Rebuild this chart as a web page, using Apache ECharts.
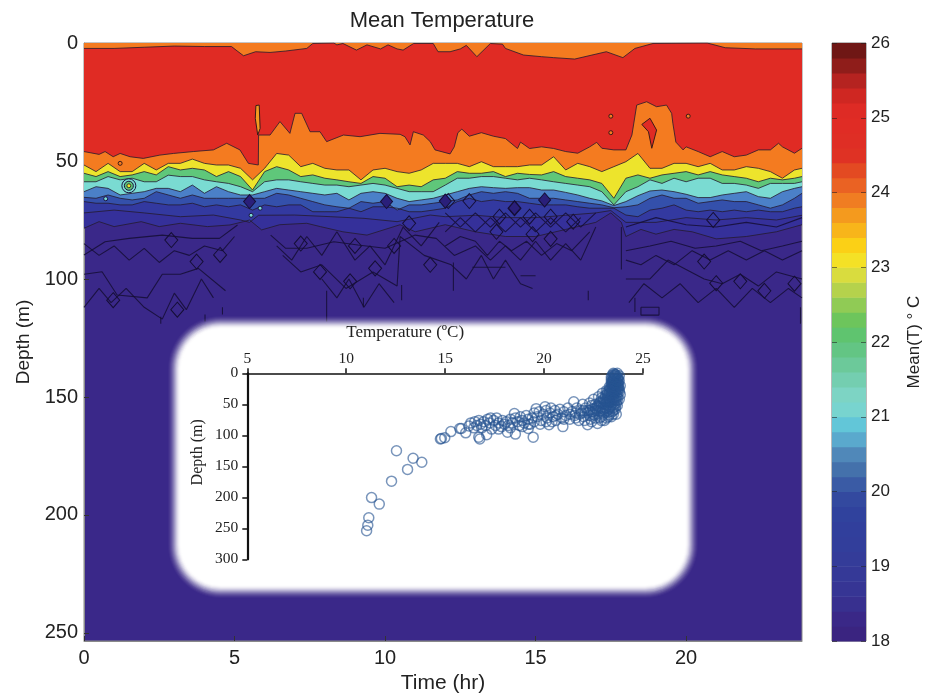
<!DOCTYPE html>
<html><head><meta charset="utf-8">
<style>html,body{margin:0;padding:0;background:#fff}#c{width:931px;height:694px}</style>
<script src="https://cdn.jsdelivr.net/npm/echarts@6/dist/echarts.min.js"></script>
</head><body><div id="c"></div>
<script>
// ---------- main contour panel: isotherm depths (m) ----------
const gridTimes=[0,.4,.8,1.2,1.6,2,2.4,2.8,3.2,3.6,4,4.4,4.8,5.2,5.6,6,6.4,6.8,7.2,7.6,8,8.4,8.8,9.2,9.6,10,10.4,10.8,11.2,11.6,12,
12.4,12.8,13.2,13.6,14,14.4,14.8,15.2,15.6,16,16.4,16.8,17.2,17.6,18,18.4,18.8,19.2,19.6,20,20.4,20.8,21.2,21.6,22,22.4,22.8,23.2,23.6,23.85];
const isoYellowTop=[51.7,54.5,51,54.5,54.5,51,53.8,51,51,49.2,51,51.7,51.7,53.1,58,53.1,46.8,47.5,52.4,51,53.1,53.8,53.8,58,53.8,53.1,54.5,55.2,53.8,51,51,
51,52.4,50.3,52.4,52.4,52.4,51.7,51.7,48.2,53.8,51,52.4,54.5,52.4,50.3,46.8,53.1,53.1,51,51,52.4,51,53.8,53.8,52.4,53.1,54.5,57.3,53.8,53.1];
const isoGreenTop=[55.2,56.6,54.5,56.6,55.9,54.5,55.9,52.4,53.8,53.1,53.8,56.6,54.5,56.6,62.3,54.5,52.4,53.8,56.6,55.9,57.3,58,58.8,59.5,56.6,57.3,60.9,60.2,60.9,58,57.3,
54.5,55.2,55.2,54.5,56.6,55.2,55.7,55.9,54.5,56.6,57.3,58,59.5,65.8,57.3,55.9,57.3,55.9,55.2,54.5,55.9,54.5,55.9,56.6,57.3,58.8,57.3,58,57.3,56.6];
const isoCyanTop=[58.8,58.8,56.6,58,57.3,58.8,58.8,56,56.6,56.6,58,58.8,59.5,60.9,63,58.8,58,58,58.8,59.5,60.2,60.2,60.9,60.2,59.5,60.2,61.6,63,63,63,60.2,
57.3,57.3,56.6,56.6,57.3,58,57.3,58,58.8,59.5,60.2,60.9,63,68.6,63,60.9,58,59.5,57.3,58.8,57.3,57.3,59.5,59.5,60.2,61.6,59.5,59.5,59.5,58.8];
const isoLightBlueTop=[63,60.9,61.6,64.4,63.7,63,61.6,61.6,63,60.2,63.7,60.9,63,64.4,64.4,63,61.6,62.3,63,63.7,64.4,63.7,66.5,63.7,63,63.7,65.8,67.2,66.5,65.8,64.4,
63,61.6,60.9,61.3,61.6,61.3,61.3,62.3,62.3,63.3,64.4,65.8,66.9,68.9,67.2,64.7,62.7,62.3,63,64.1,65.5,65.5,64.4,63.7,63,65.1,65.8,63,61.6,60.9];
const isoMidBlueTop=[65.4,65.8,64.4,65.8,66.5,65.8,63,64.4,65.8,64.4,65.8,65.8,65.8,65.8,65.8,65.8,63.7,64.4,65.8,67.2,68.6,69.4,70,67.2,67.9,67.2,70.8,68.6,68.6,67.9,67.2,
66.5,64.4,63,63.7,63,63.7,65.8,65.8,65.8,66.5,67.2,67.9,68.6,69.8,69.4,68.6,65.8,64.4,65.8,65.8,67.9,67.2,66.5,67.2,67.2,68.6,70,68.6,65.8,63.7];
const isoDarkBlueTop=[67.2,67.9,67.9,68.6,68.6,67.2,67.9,68.6,68.6,67.9,69.4,68.6,69.4,68.6,70.8,68.6,69.4,68.6,68.6,71.5,71.5,71.5,70,71.5,69.4,69.4,70,71.5,71.5,70.8,70,
67.2,65.8,67.2,66.5,67.2,67.2,67.9,68.6,68.6,68.6,69.4,70,70,70,72.9,73.6,70.8,70,68.6,70.8,71.5,70.8,71.5,70.8,71.5,70.8,71.5,71.5,70,69.4];
const isoRedBottom=[[0,46],[.5,47.2],[.7,46],[.97,48.2],[1.2,46.8],[1.53,48.2],[1.97,48.9],[2.52,47.5],[2.97,46.8],[3.63,46],[4.3,45.3],[4.74,42.5],[5.18,45.3],[5.46,51],[5.79,51.7],[5.8,39],[6.18,39],[6.51,33.3],[6.84,38.3],[7.01,29.8],[7.23,29.8],[7.51,37.6],[7.84,37.6],[8.06,41.8],[8.62,39],[9.17,39.7],[9.83,38.3],[10.5,38.7],[10.66,39.7],[10.83,43.2],[10.94,37.6],[11.27,39],[11.5,41.8],[11.66,45.3],[12.16,47],[12.3,44],[12.42,38],[12.55,36.5],[12.8,39.5],[13.2,38],[13.6,39.5],[14,40.5],[14.4,44.7],[14.5,42],[14.8,44.7],[15.2,44],[15.6,44.7],[16,46],[16.4,46.7],[16.8,44],[17.03,42.1],[17.2,44.6],[17.6,45.3],[18,45.3],[18.2,39],[18.36,26.3],[18.69,24.9],[19.02,27],[19.35,26.3],[19.52,29.8],[19.56,34],[19.66,42],[19.9,45.3],[20,44],[20.4,46],[20.8,48.2],[21.2,46],[21.6,48.2],[22,47.5],[22.4,45.3],[22.8,45.3],[23.07,42.5],[23.2,44],[23.6,46.7],[23.85,44.6]];
const isoRedTop=[[0,2.3],[1,2.3],[2,1.8],[3,1.3],[4,1.5],[4.9,1.5],[5.05,3],[5.3,5.4],[5.7,3.7],[6.18,4],[6.7,3.4],[7.4,2.3],[7.6,.2],[8.3,0],[8.4,.8],[8.6,.2],[9.05,3],[9.4,.8],[9.85,2.5],[10.1,.8],[10.4,2.5],[10.6,3],[10.95,.2],[11.6,.2],[11.76,3.7],[12.16,3.7],[12.5,2.5],[12.7,1],[13.05,5.8],[13.5,.2],[13.9,.5],[14,2.3],[14.6,5.1],[15.2,5.8],[15.6,6.2],[16.3,6.8],[17.35,3.7],[17.9,6.2],[18.3,2.3],[18.9,.2],[20.7,0],[21.3,2],[22.3,2.5],[23.85,2.5]];
// deep contours, null = break
const contour1=[[0,72],[1,70.8],[2,72],[3.2,73.6],[4.3,72.9],[5.2,75],[5.5,76],[5.8,73],[7,72.9],[8.2,73.6],[9.3,74.3],[10.4,75.7],[11.5,72.9],[12,73.6],[13,73],[14,74],[15,74],[16,73],[17,72],[17.5,71],[18,76],[19,76],[20,74],[21,75],[22,74],[23,75],[23.85,73]];
const contour2=[[0,78.5],[.5,75.7],[1,77.8],[1.9,75.7],[2.5,77.8],[3.2,76.4],[4.1,77.8],[4.85,77.1],[5.3,75.7],[5.5,75],[5.9,79.2],[6.5,77],[7.4,76.4],[7.85,77.8],[8.6,80],[9.4,81.4],[10.5,77],[11,80],[12,77],[13,80],[14,82],[15,82],[16,79],[17,76],[17.5,72],[17.85,76],[18,82],[18.5,79],[19,81],[19.6,79],[20.2,80],[21,83],[22,82],[23,80],[23.85,77]];
const contour3=[[0,89.8],[.7,84.2],[1.5,82.8],[2.6,81.4],[3.6,82.8],[4.5,82.8],[5.1,77.1],null,[6.2,81.4],[6.7,87],[7.4,87],[8.3,84.2],[9.1,85.6],[10,87],[11,81.4],[11.7,82.8],[12.3,90],[13,86],[13.5,92],[14,86],[14.5,92],[15,84],[15.5,92],[16,85],[16.5,92],[17,78],null,[18,88],[18.8,86],[19.5,84],[20.3,87],[21,86],[21.8,84],[22.5,88],[23.2,86],[23.85,84]];
const contour4=[[0,98],[.6,96.9],[1.1,106.8],[2.1,108],[2.6,98],[3.2,98],[3.8,95.5],[4.7,105],null,[6.6,90],[7.2,97],[7.9,94],[8.7,104],[9.6,97],[10.4,103],[10.5,82],[11.3,90],[12.2,94],[12.7,100],[13.2,90],[13.6,100],[14,92],[14.5,102],[14.9,104],null,[18,100],[18.8,100],[19.4,92],[20,96],[20.6,100],[21.2,102],[21.8,98],[22.4,103],[23,97],[23.85,100]];
const contour5=[[0,85],[.5,90],[1,86],[1.5,92],[2,87],[2.5,93],[3,88],[3.5,90],[4,86],[4.6,88],[5,82],null,[0,112],[.5,104],[.9,110],[1.4,104],[2,112],[2.6,117],[3,106],[3.4,113],[3.9,100],[4.3,108],null,[6.4,86],[6.9,92],[7.4,82],[7.9,90],[8.4,80],[9,92],[9.5,86],[10,94],[10.6,78],[11.2,86],[11.8,76],null,[7.9,100],[8.4,108],[8.8,100],[9.3,112],[9.8,102],[10.3,110]];
const contour6=[[12,72],[12.5,78],[13,72],[13.5,78],[14,72],[14.5,78],[15,72],[15.5,78],[16,72],[16.5,78],[17,72],null,[12,80],[12.5,74],[13,80],[13.5,74],[14,80],[14.5,74],[15,80],[15.5,74],[16,80],[16.5,74],null,[12,86],[12.5,82],[13,84],[13.4,90],[13.8,84],[14.2,88],[14.7,84],[15.2,90],[15.7,85],[16.2,88],[16.8,80],null,[18,92],[18.5,94],[19,90],[19.6,94],[20.2,88],[20.8,92],[21.4,88],[22,92],[22.6,88],[23.2,92],[23.85,88],null,[18,78],[19,74],[20,77],[21,78],[22,76],[23,78],[23.85,74],null,[18.1,110],[18.6,102],[19.2,108],[19.8,102],[20.4,110],[21,104],[21.6,112],[22.2,104],[22.8,110],[23.4,104],[23.85,108]];
const contourBits=[[8.06,105],[8.06,118],null,[10.55,102.5],[10.55,109],null,[9.28,108],[9.28,112],null,[12.27,93],[12.27,105],null,[18.3,108],[18.3,114],null,[16.75,105],[16.75,109],null,[23.8,112],[23.8,119],null,[14.5,98.6],[15,98.6],null,[12.9,95],[14,95],null,[4.02,115],[4.02,118],null,[2.55,116],[2.55,119],null,[4.6,112],[4.6,115],null,[18.5,112],[19.1,112],[19.1,115.3],[18.5,115.3],[18.5,112],null,[17.85,78],[17.85,96]];
const diamonds=[[4.52,89.8],[3.74,92.6],[2.9,83.5],[9,86],[10.3,86],[10.8,76.4],[9.67,95.5],[11.5,94],[.97,109],[3.1,113],[7.2,85],[7.84,97],[8.84,101],[12.1,67],[12.8,67],[13.7,80],[14.3,70],[14.8,73.6],[15.5,73.6],[16.25,75.7],[13.8,73.6],[14.9,81],[15.5,83],[20.6,92.6],[21,101.8],[21.8,101],[22.6,105],[23.6,102],[20.9,75]];
const filledDiamonds=[[5.5,67.2],[10.05,67.2],[12,67],[15.3,66.5],[14.3,70]];
const orangeDots=[[17.5,31],[17.5,38],[20.07,31],[1.2,51]];
const hotSpot=[[1.49,60.5]];
const cyanSpots=[[5.55,73],[5.85,70],[.72,66]];
const orangeSliver=[[5.71,26.5],[5.82,26.3],[5.85,36.2],[5.77,39],[5.69,31.9]];
const redNotch=[[18.53,34.5],[18.8,31.9],[19.02,36.9],[18.86,44.6],[18.75,37.6]];
// ---------- colour bar ----------
const barLevels=[18,18.2,18.4,18.6,18.8,19,19.2,19.4,19.6,19.8,20,20.2,20.4,20.6,20.8,21,21.2,21.4,21.6,21.8,22,22.2,22.4,22.6,22.8,23,23.2,23.4,23.6,23.8,24,24.2,24.4,24.6,24.8,25,25.2,25.4,25.6,25.8];
const barColors=['#3a2480','#3a2887','#38308f','#363594','#353997','#343c99','#323e9b','#313f9c','#30429d','#33499f','#3a5ba5','#4471ab','#5088b9','#5aa9cd','#62c6d8','#78d4cf','#7dd4c4','#74ceb0','#6cc99a','#63c584','#5fc46f','#6dc55c','#90cb55','#b5d24c','#d9dc3e','#f4e126','#fbd016','#f8b51a','#f49a1e','#f07d22','#ea6223','#e34a22','#df3224','#df2e25','#e02c25','#de2b25','#cf2722','#b52320','#8f1d1a','#6f1715'];
// ---------- inset scatter: [temperature, depth] ----------
const insetPoints=[[11.03,254],[11.09,245],[11.14,233],[11.67,211],[11.28,200.5],[12.29,174],[13.1,155],[13.82,143.5],[13.38,137],[12.54,125],
[14.76,106],[14.81,105],[14.98,104],[15.29,94],[15.74,89],[15.82,89],[16.04,96],[16.75,106],[16.7,103],[17.1,99],[18.15,95],[18.55,98],[19.45,103],[19.2,89],
[16.2,85],[16.3,80],[16.45,88],[16.5,78],[16.6,84],[16.7,76],[16.8,82],[16.85,88],[16.95,78],[17.05,84],[17.15,74],[17.25,80],[17.35,90],[17.45,76],[17.55,84],[17.6,72],[17.7,80],[17.85,86],[17.9,76],[18,82],[18.1,78],[18.2,84],[18.3,74],[18.4,80],[18.5,65],[18.55,72],[18.65,78],[18.75,84],[18.8,70],[18.9,76],[19,80],[19.1,68],[19.2,74],[19.3,82],[19.4,72],[19.5,64],[19.6,57],[19.65,70],[19.75,62],[19.85,76],[19.95,66],[20.05,54],[20.1,60],[20.15,72],[20.25,83],[20.3,64],[20.35,56],[20.45,70],[20.55,60],[20.6,76],[20.7,66],[20.8,58],[20.9,72],[20.95,86],[21,62],[21.1,68],[21.2,56],[21.3,74],[21.4,62],[21.5,46],[21.55,68],[21.65,56],[21.75,76],[21.85,60],[21.95,50],[22,70],[22.1,56],[22.2,83],[22.2,64],[22.3,48],[22.35,74],[22.45,58],[22.5,42],[22.55,68],[22.6,50],[22.7,81],[22.7,60],[22.75,38],[22.8,72],[22.85,46],[22.9,56],[22.95,32],[23,66],[23,42],[23.05,76],[23.1,50],[23.15,28],[23.2,60],[23.2,36],[23.25,70],[23.3,44],[23.3,22],[23.35,54],[23.4,70],[23.4,32],[23.45,62],[23.45,12],[23.5,40],[23.5,20],[23.55,50],[23.55,4],[23.6,28],[23.6,58],[23.65,66],[23.65,14],[23.7,36],[23.7,0],[23.75,22],[23.75,8],[23.8,30],[23.8,42],
[23.5,0],[23.6,2],[23.4,6],[23.5,10],[23.6,16],[23.7,6],[23.75,16],[23.8,12],[23.85,20],[23.85,34],[23.4,18],[23.5,26],[23.4,26],[23.3,32],[23.7,44],[23.6,38],[23.8,4],[23.2,30],[23.1,36],[22.9,40],[22.8,48],[23,54],[23.4,46],[23.6,44],[23.5,34],[22.6,56],[22.4,52],[23.2,46],[23.1,56],[23.3,62],[23.5,56],[23.7,52],[22.9,64],[22.7,52],[22.5,62],[22.3,60],[22,60],[21.8,66],[21.6,72],[21.3,66],[21,74],[20.6,68],[20.4,78],[20.1,78],[19.8,82],[19.5,78],[19.2,82],[18.9,86],[18.3,88],[17.7,90],[17.3,72],
[23.55,1],[23.65,3],[23.45,3],[23.6,5],[23.7,9],[23.5,7],[23.55,9],[23.65,11],[23.4,10],[23.75,12],[23.5,13],[23.6,13],[23.45,15],[23.7,15],[23.55,17],[23.65,18],[23.75,19],[23.4,14],[23.5,17],[23.6,20],[23.7,21],[23.45,21],[23.55,23],[23.65,24],[23.75,25],[23.35,24],[23.45,25],[23.6,26],[23.7,27],[23.8,26],[23.3,27],[23.4,29],[23.5,30],[23.6,31],[23.7,31],[23.2,33],[23.3,35],[23.4,36],[23.5,37],[23.7,39],[23.1,40],[23.2,41],[23.3,40],[23.4,41],[23.5,43],[23.6,41],[23.05,45],[23.15,46],[23.3,47],[23.5,47],[23.65,48],[22.9,48],[23,49],[23.2,51],[23.4,51],[23.6,54],[22.7,54],[22.8,55],[23,58],[23.3,57],[23.5,60],[22.6,60],[22.8,61],[23.1,63],[23.3,67],[23.5,66],[22.4,62],[22.5,66],[22.9,70],[23.15,72],[22.2,60],[22.3,68],[22.6,72],[22.9,76],[22.4,78],[21.9,64],[21.6,64],[22.05,76]];

const SANS='"Liberation Sans",Arial,sans-serif', SERIF='"Liberation Serif","Times New Roman",serif';
const zip=a=>a.map((d,i)=>[gridTimes[i],d]);
function layer(pts,fill,name){return {type:'line',name,xAxisIndex:0,yAxisIndex:0,data:pts,symbol:'none',showSymbol:false,silent:true,
  lineStyle:{color:'#241a2e',width:1,opacity:.8},areaStyle:{color:fill,opacity:1},z:2};}
function contour(pts){return {type:'line',xAxisIndex:0,yAxisIndex:0,data:pts.map(p=>p===null?['-','-']:p),connectNulls:false,symbol:'none',silent:true,
  lineStyle:{color:'#150e35',width:1.1,opacity:.85},z:3};}
function poly(pts,fill){return {type:'custom',xAxisIndex:0,yAxisIndex:0,silent:true,z:4,data:[pts[0]],
  renderItem:(p,api)=>({type:'polygon',shape:{points:pts.map(q=>api.coord(q))},style:{fill,stroke:'#3a1a18',lineWidth:1}})};}
function dots(pts,size,fill,stroke,sym){return {type:'scatter',xAxisIndex:0,yAxisIndex:0,data:pts,symbol:sym||'circle',symbolSize:size,silent:true,z:4,
  itemStyle:{color:fill,borderColor:stroke,borderWidth:1,opacity:1}};}
// soft white panel behind the inset: nested rounded rectangles, alpha rising inward
const panelAlpha=[.03,.05,.07,.09,.12,.15,.19,.24,.3,.37,.46,.58,.75,1];
const panel=panelAlpha.map((a,k)=>{const i=13-k;
  return {type:'rect',z:5,silent:true,shape:{x:181-i,y:329-i,width:504+2*i,height:256+2*i,r:40+i},style:{fill:'rgba(255,255,255,'+a+')'}};});

const chart=echarts.init(document.getElementById('c'),null,{width:931,height:694,renderer:'canvas'});
chart.setOption({
 animation:false,
 backgroundColor:'#fff',
 title:{text:'Mean Temperature',left:437,top:5,textAlign:'center',textStyle:{fontFamily:SANS,fontSize:22,fontWeight:'normal',color:'#222'}},
 graphic:panel,
 grid:[
  {left:84,right:129,top:43,bottom:53,outerBoundsMode:'none',show:true,backgroundColor:'#3a2889',borderColor:'#8a8a8a',borderWidth:1},
  {left:247.3,right:288,top:373.3,bottom:134.7,outerBoundsMode:'none'},
  {left:832,right:65,top:43,bottom:53,outerBoundsMode:'none',show:true,borderColor:'#777',borderWidth:1}
 ],
 xAxis:[
  {gridIndex:0,type:'value',min:0,max:23.85,interval:5,name:'Time (hr)',nameLocation:'middle',nameGap:31,
   nameTextStyle:{fontFamily:SANS,fontSize:21,color:'#222'},
   axisLine:{onZero:false,lineStyle:{color:'#8a8a8a'}},axisTick:{inside:true,length:5,lineStyle:{color:'#333'}},
   axisLabel:{fontFamily:SANS,fontSize:20,color:'#222',margin:7,showMaxLabel:false},splitLine:{show:false}},
  {gridIndex:1,type:'value',position:'top',min:5,max:25,interval:5,z:10,
   axisLine:{onZero:false,lineStyle:{color:'#111',width:1.5}},axisTick:{length:5,lineStyle:{color:'#111',width:1.5}},
   axisLabel:{fontFamily:SERIF,fontSize:15.5,color:'#222',margin:6},splitLine:{show:false},
   name:'Temperature (ºC)',nameLocation:'middle',nameGap:32,nameTextStyle:{fontFamily:SERIF,fontSize:17,color:'#222',padding:[0,80,0,0]}},
  {gridIndex:2,type:'value',min:0,max:1,show:false}
 ],
 yAxis:[
  {gridIndex:0,type:'value',inverse:true,min:0,max:253.4,interval:50,name:'Depth (m)',nameLocation:'middle',nameGap:50,nameRotate:90,
   nameTextStyle:{fontFamily:SANS,fontSize:19,color:'#222'},
   axisLine:{onZero:false,lineStyle:{color:'#8a8a8a'}},axisTick:{inside:true,length:5,lineStyle:{color:'#333'}},
   axisLabel:{fontFamily:SANS,fontSize:20,color:'#222',margin:6,showMaxLabel:false},splitLine:{show:false}},
  {gridIndex:1,type:'value',inverse:true,min:0,max:300,interval:50,z:10,
   axisLine:{onZero:false,lineStyle:{color:'#111',width:2.2}},axisTick:{length:5,lineStyle:{color:'#111',width:1.5}},
   axisLabel:{fontFamily:SERIF,fontSize:15.5,color:'#222',margin:9},splitLine:{show:false},
   name:'Depth (m)',nameLocation:'middle',nameGap:42,nameTextStyle:{fontFamily:SERIF,fontSize:16,color:'#222',padding:[0,0,0,28]}},
  {gridIndex:2,type:'value',position:'right',min:18,max:26,interval:1,z:6,
   name:'Mean(T) ° C',nameLocation:'middle',nameGap:40,nameRotate:90,nameTextStyle:{fontFamily:SANS,fontSize:17,color:'#222'},
   axisLine:{onZero:false,show:false},axisTick:{inside:true,length:5,lineStyle:{color:'rgba(30,30,30,.55)'}},
   axisLabel:{fontFamily:SANS,fontSize:17,color:'#222',margin:5},splitLine:{show:false}},
  {gridIndex:2,type:'value',position:'left',min:18,max:26,interval:1,z:6,
   axisLine:{onZero:false,show:false},axisTick:{inside:true,length:5,lineStyle:{color:'rgba(30,30,30,.55)'}},axisLabel:{show:false},splitLine:{show:false}}
 ],
 series:[
  layer(contour2,'#35309a','c2'),
  layer(contour1,'#3339a0','c1'),
  layer(zip(isoDarkBlueTop),'#3450ab','h'),
  layer(zip(isoMidBlueTop),'#4b80c8','g'),
  layer(zip(isoLightBlueTop),'#7adbd2','f'),
  layer(zip(isoCyanTop),'#5fc77a','e'),
  layer(zip(isoGreenTop),'#ede42c','d'),
  layer(zip(isoYellowTop),'#f47b20','c'),
  layer(isoRedBottom,'#e02b24','b'),
  layer(isoRedTop,'#f47b20','a'),
  contour(contour3),contour(contour4),contour(contour5),contour(contour6),contour(contourBits),
  poly(orangeSliver,'#f49a20'),poly(redNotch,'#e02b24'),
  dots(diamonds,[13,15],'rgba(0,0,0,0)','#150e35','diamond'),
  dots(filledDiamonds,[12,14],'#2a1f7a','#150e35','diamond'),
  dots(cyanSpots,4,'#7adbd2','#1a1240'),
  dots(hotSpot,14,'#7adbd2','#1a1240'),
  dots(hotSpot,9,'#5fc77a','#1a1240'),
  dots(hotSpot,4,'#ede42c','#333'),
  dots(orangeDots,4,'#f47b20','#3a1a18'),
  {type:'custom',xAxisIndex:2,yAxisIndex:2,silent:true,z:3,data:barLevels.map((v,i)=>[v,i]),
   renderItem:(p,api)=>{const lo=api.value(0);const a=api.coord([0,lo]),b=api.coord([1,lo+0.2]);
     return {type:'rect',shape:{x:a[0],y:b[1],width:b[0]-a[0],height:a[1]-b[1]+.6},style:{fill:barColors[api.value(1)]}};}},
  {type:'scatter',xAxisIndex:1,yAxisIndex:1,data:insetPoints,symbol:'circle',symbolSize:10,z:10,silent:true,
   itemStyle:{color:'rgba(0,0,0,0)',borderColor:'rgba(38,84,146,.62)',borderWidth:1.5,opacity:1}}
 ]
});
</script></body></html>
